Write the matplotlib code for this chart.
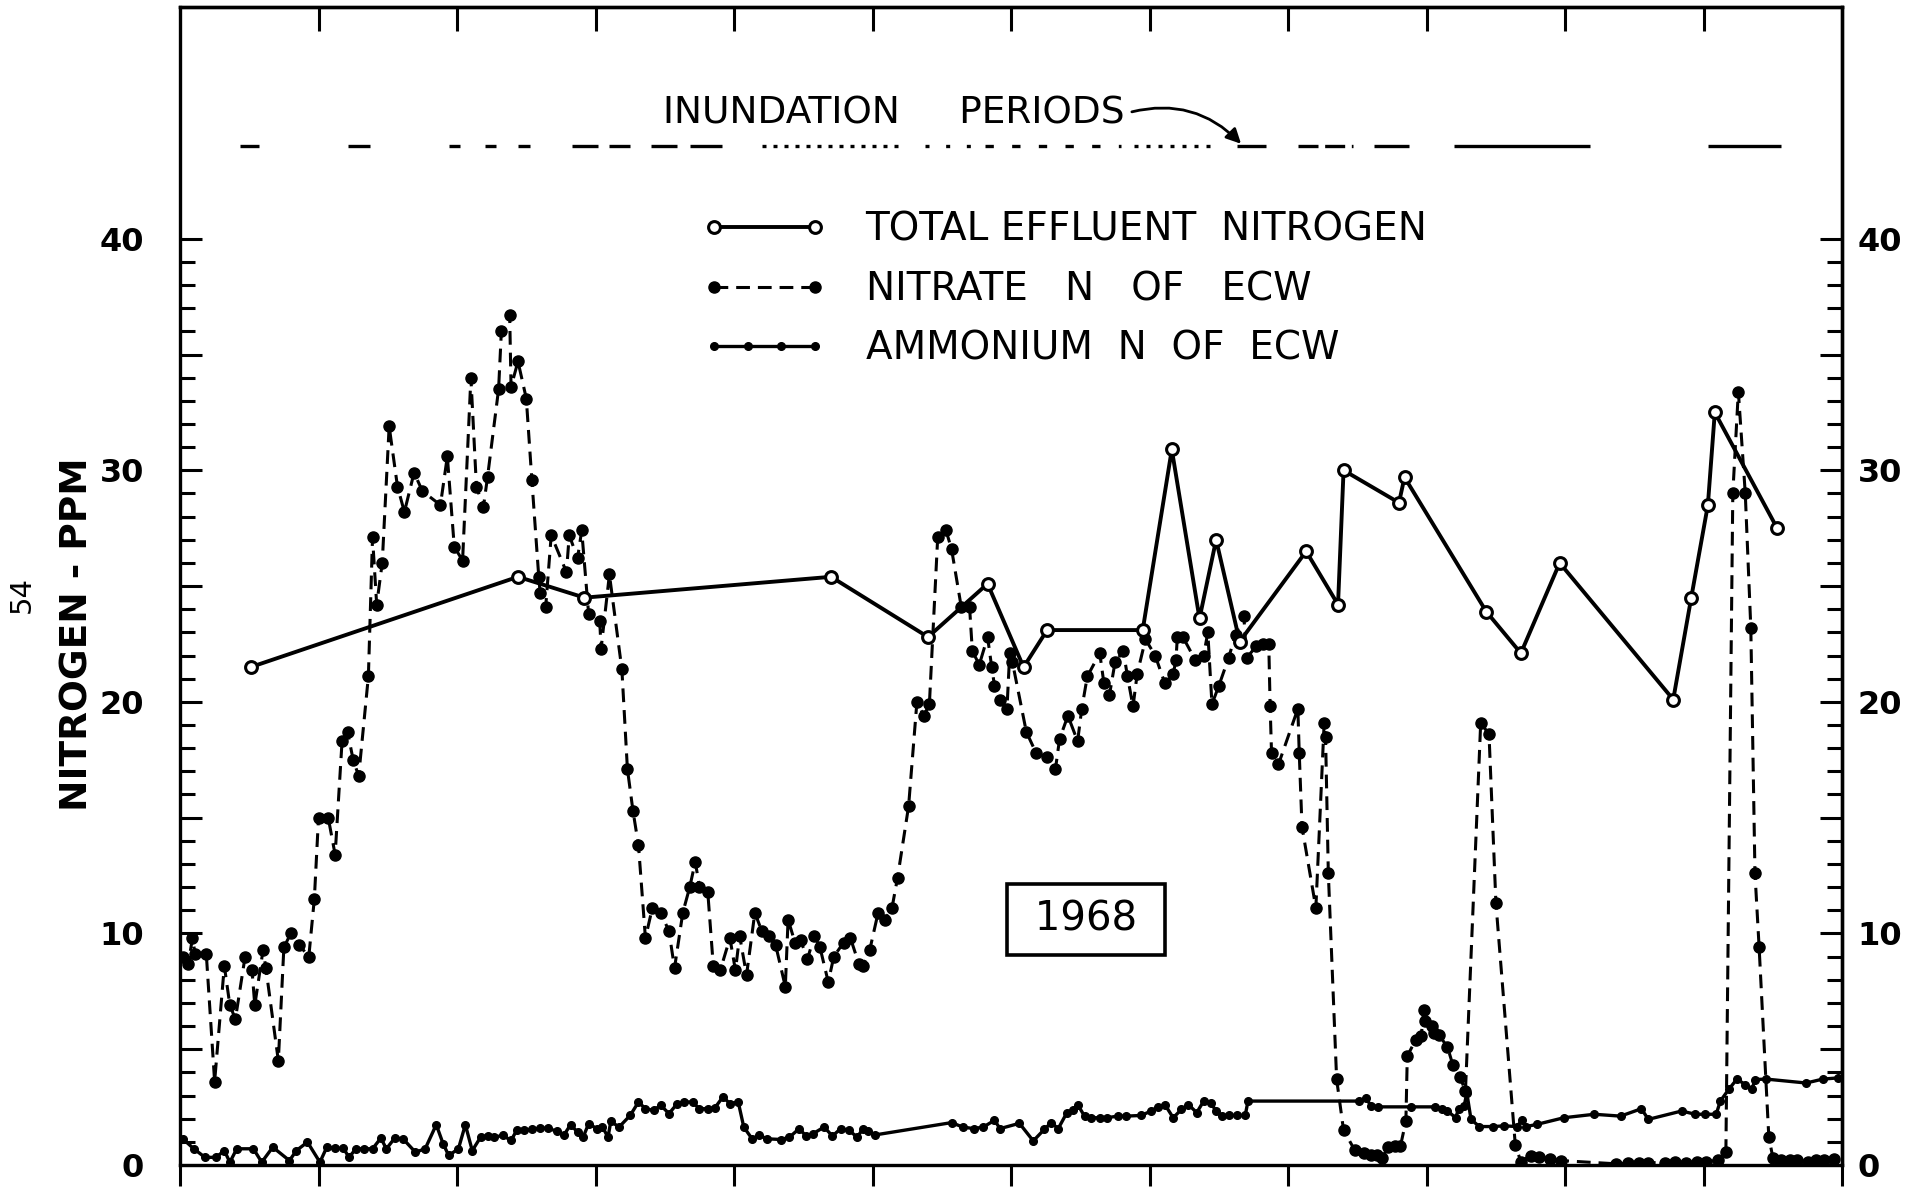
import matplotlib
matplotlib.use('Agg')
import matplotlib.pyplot as plt
from matplotlib.ticker import FixedLocator, FuncFormatter, NullFormatter
from matplotlib.legend_handler import HandlerLine2D

plt.rcParams['font.family'] = ['DejaVu Sans']

# ---------------- data (x = months of 1968 from Jan 1, y = ppm N) ----------------
total_month = [0.51, 2.44, 2.92, 4.70, 5.40, 5.83, 6.09, 6.26, 6.95, 7.16, 7.36, 7.48,
               7.65, 8.13, 8.36, 8.40, 8.80, 8.84, 9.43, 9.68, 9.96, 10.78, 10.91,
               11.03, 11.08, 11.53]
total_ppm = [21.5, 25.4, 24.5, 25.4, 22.8, 25.1, 21.5, 23.1, 23.1, 30.9, 23.6, 27.0,
             22.6, 26.5, 24.2, 30.0, 28.6, 29.7, 23.9, 22.1, 26.0, 20.1, 24.5,
             28.5, 32.5, 27.5]

nitrate_month = [0.02, 0.06, 0.09, 0.11, 0.19, 0.25, 0.32, 0.36, 0.40, 0.47, 0.52, 0.54,
                 0.60, 0.62, 0.71, 0.75, 0.80, 0.86, 0.93, 0.97, 1.00, 1.07, 1.12, 1.17,
                 1.21, 1.25, 1.29, 1.36, 1.39, 1.42, 1.46, 1.51, 1.57, 1.62, 1.69, 1.75,
                 1.88, 1.93, 1.98, 2.04, 2.10, 2.14, 2.19, 2.22, 2.30, 2.32, 2.38, 2.39,
                 2.44, 2.50, 2.54, 2.59, 2.60, 2.64, 2.68, 2.79, 2.81, 2.87, 2.90, 2.95,
                 3.03, 3.04, 3.10, 3.19, 3.23, 3.27, 3.31, 3.36, 3.41, 3.47, 3.53, 3.57,
                 3.63, 3.68, 3.72, 3.75, 3.81, 3.85, 3.90, 3.97, 4.01, 4.04, 4.09, 4.15,
                 4.20, 4.25, 4.30, 4.37, 4.39, 4.44, 4.48, 4.53, 4.58, 4.62, 4.68, 4.72,
                 4.79, 4.84, 4.90, 4.93, 4.98, 5.04, 5.09, 5.14, 5.18, 5.26, 5.32, 5.37,
                 5.41, 5.47, 5.53, 5.57, 5.64, 5.70, 5.72, 5.77, 5.83, 5.86, 5.88, 5.92,
                 5.97, 5.99, 6.01, 6.11, 6.18, 6.26, 6.32, 6.35, 6.41, 6.48, 6.51, 6.55,
                 6.64, 6.67, 6.71, 6.75, 6.81, 6.84, 6.88, 6.91, 6.97, 7.04, 7.11, 7.17,
                 7.19, 7.20, 7.24, 7.33, 7.39, 7.42, 7.45, 7.50, 7.57, 7.62, 7.68, 7.70,
                 7.77, 7.82, 7.86, 7.87, 7.88, 7.93, 8.07, 8.08, 8.10, 8.20, 8.26, 8.27,
                 8.29, 8.35, 8.40, 8.48, 8.55, 8.60, 8.64, 8.68, 8.72, 8.77, 8.81, 8.85,
                 8.86, 8.92, 8.96, 8.98, 8.99, 9.04, 9.05, 9.09, 9.15, 9.19, 9.24, 9.28,
                 9.39, 9.45, 9.50, 9.64, 9.68, 9.75, 9.81, 9.89, 9.97, 10.37, 10.45, 10.53,
                 10.60, 10.72, 10.79, 10.87, 10.95, 11.02, 11.10, 11.16, 11.21, 11.25, 11.30, 11.34,
                 11.37, 11.40, 11.47, 11.50, 11.56, 11.62, 11.67, 11.75, 11.81, 11.87, 11.94]
nitrate_ppm = [9.0, 8.7, 9.8, 9.1, 9.1, 3.6, 8.6, 6.9, 6.3, 9.0, 8.4, 6.9,
               9.3, 8.5, 4.5, 9.4, 10.0, 9.5, 9.0, 11.5, 15.0, 15.0, 13.4, 18.3,
               18.7, 17.5, 16.8, 21.1, 27.1, 24.2, 26.0, 31.9, 29.3, 28.2, 29.9, 29.1,
               28.5, 30.6, 26.7, 26.1, 34.0, 29.3, 28.4, 29.7, 33.5, 36.0, 36.7, 33.6,
               34.7, 33.1, 29.6, 25.4, 24.7, 24.1, 27.2, 25.6, 27.2, 26.2, 27.4, 23.8,
               23.5, 22.3, 25.5, 21.4, 17.1, 15.3, 13.8, 9.8, 11.1, 10.9, 10.1, 8.5,
               10.9, 12.0, 13.1, 12.0, 11.8, 8.6, 8.4, 9.8, 8.4, 9.9, 8.2, 10.9,
               10.1, 9.9, 9.5, 7.7, 10.6, 9.6, 9.7, 8.9, 9.9, 9.4, 7.9, 9.0,
               9.6, 9.8, 8.7, 8.6, 9.3, 10.9, 10.6, 11.1, 12.4, 15.5, 20.0, 19.4,
               19.9, 27.1, 27.4, 26.6, 24.1, 24.1, 22.2, 21.6, 22.8, 21.5, 20.7, 20.1,
               19.7, 22.1, 21.7, 18.7, 17.8, 17.6, 17.1, 18.4, 19.4, 18.3, 19.7, 21.1,
               22.1, 20.8, 20.3, 21.7, 22.2, 21.1, 19.8, 21.2, 22.7, 22.0, 20.8, 21.2,
               21.8, 22.8, 22.8, 21.8, 22.0, 23.0, 19.9, 20.7, 21.9, 22.9, 23.7, 21.9,
               22.4, 22.5, 22.5, 19.8, 17.8, 17.3, 19.7, 17.8, 14.6, 11.1, 19.1, 18.5,
               12.6, 3.7, 1.5, 0.65, 0.5, 0.45, 0.44, 0.3, 0.77, 0.8, 0.8, 1.9,
               4.7, 5.4, 5.55, 6.7, 6.2, 6.0, 5.7, 5.6, 5.1, 4.3, 3.8, 3.2,
               19.1, 18.6, 11.3, 0.85, 0.15, 0.4, 0.33, 0.26, 0.19, 0.05, 0.08, 0.1,
               0.1, 0.1, 0.12, 0.1, 0.12, 0.15, 0.2, 0.54, 29.0, 33.4, 29.0, 23.2,
               12.6, 9.4, 1.2, 0.3, 0.2, 0.2, 0.2, 0.15, 0.2, 0.2, 0.25]

ammonium_month = [0.02, 0.10, 0.18, 0.26, 0.32, 0.36, 0.41, 0.53, 0.59, 0.67, 0.79, 0.84,
                  0.92, 1.01, 1.06, 1.12, 1.18, 1.22, 1.27, 1.33, 1.39, 1.45, 1.49, 1.55,
                  1.61, 1.70, 1.77, 1.85, 1.90, 1.94, 2.01, 2.06, 2.11, 2.17, 2.22, 2.27,
                  2.33, 2.39, 2.43, 2.48, 2.54, 2.60, 2.66, 2.72, 2.77, 2.82, 2.87, 2.91,
                  2.95, 3.01, 3.05, 3.09, 3.11, 3.17, 3.25, 3.31, 3.36, 3.42, 3.47, 3.53,
                  3.59, 3.64, 3.70, 3.75, 3.81, 3.86, 3.92, 3.97, 4.03, 4.07, 4.13, 4.18,
                  4.24, 4.34, 4.40, 4.47, 4.52, 4.57, 4.65, 4.71, 4.77, 4.83, 4.89, 4.93,
                  4.97, 5.02, 5.57, 5.65, 5.73, 5.80, 5.88, 5.92, 6.06, 6.16, 6.24, 6.29,
                  6.34, 6.40, 6.45, 6.48, 6.53, 6.58, 6.64, 6.69, 6.77, 6.83, 6.94, 7.01,
                  7.06, 7.11, 7.17, 7.23, 7.28, 7.34, 7.39, 7.44, 7.48, 7.52, 7.57, 7.63,
                  7.69, 7.71, 8.51, 8.56, 8.60, 8.65, 8.89, 9.06, 9.11, 9.15, 9.21, 9.23,
                  9.27, 9.29, 9.32, 9.38, 9.48, 9.56, 9.65, 9.69, 9.72, 9.80, 9.99, 10.21,
                  10.40, 10.55, 10.60, 10.84, 10.94, 11.01, 11.09, 11.12, 11.18, 11.24, 11.30, 11.35,
                  11.37, 11.45, 11.74, 11.86, 11.97]
ammonium_ppm = [1.13, 0.70, 0.33, 0.33, 0.62, 0.12, 0.70, 0.70, 0.12, 0.77, 0.19, 0.62,
                0.99, 0.12, 0.77, 0.72, 0.72, 0.33, 0.70, 0.70, 0.70, 1.16, 0.70, 1.16,
                1.13, 0.55, 0.70, 1.74, 0.91, 0.41, 0.70, 1.74, 0.62, 1.20, 1.25, 1.20,
                1.28, 1.06, 1.49, 1.49, 1.54, 1.59, 1.59, 1.45, 1.28, 1.74, 1.42, 1.20,
                1.78, 1.57, 1.64, 1.20, 1.88, 1.64, 2.14, 2.72, 2.43, 2.36, 2.58, 2.22,
                2.65, 2.72, 2.72, 2.43, 2.43, 2.46, 2.94, 2.65, 2.72, 1.64, 1.13, 1.28,
                1.13, 1.10, 1.20, 1.57, 1.25, 1.35, 1.64, 1.25, 1.57, 1.49, 1.20, 1.57,
                1.45, 1.30, 1.83, 1.64, 1.57, 1.64, 1.93, 1.57, 1.80, 1.04, 1.54, 1.83,
                1.57, 2.23, 2.37, 2.61, 2.11, 2.04, 2.04, 2.04, 2.11, 2.11, 2.14, 2.33,
                2.51, 2.61, 2.04, 2.40, 2.61, 2.26, 2.76, 2.69, 2.33, 2.11, 2.14, 2.14,
                2.14, 2.76, 2.76, 2.90, 2.54, 2.51, 2.51, 2.51, 2.43, 2.33, 2.04, 2.43,
                2.54, 3.11, 1.97, 1.66, 1.66, 1.69, 1.66, 1.94, 1.66, 1.76, 2.04, 2.19,
                2.11, 2.43, 1.97, 2.33, 2.19, 2.19, 2.19, 2.76, 3.26, 3.71, 3.47, 3.29,
                3.69, 3.71, 3.54, 3.71, 3.76]

# inundation periods (start month, end month) and their line patterns
inundation_start = [0.43, 1.21, 1.94, 2.20, 2.44, 2.83, 3.10, 3.40, 3.68, 4.20, 5.38, 5.81,
                    6.89, 7.63, 8.07, 8.62, 9.20, 11.03]
inundation_end = [0.57, 1.37, 2.02, 2.28, 2.53, 3.02, 3.25, 3.59, 3.91, 5.22, 5.72, 6.79,
                  7.47, 7.84, 8.47, 8.87, 10.18, 11.56]
inundation_style = ['-', '-', '-', '-', '-', '-', '-', '-', '-', (0, (1.2, 2.1)),
                    (0, (1.2, 5.0)), (0, (2.5, 5.5)), (0, (1.2, 2.4)), '-', (0, (6, 2)),
                    '-', '-', '-']

y_tick_major = [0, 5, 10, 15, 20, 25, 30, 35, 40]
y_tick_minor = [v for v in range(0, 41) if v % 5]
x_tick_bottom = list(range(0, 13))
x_tick_top = list(range(1, 12))

INUNDATION_LEVEL = 44.0

# ---------------- figure ----------------
fig = plt.figure(figsize=(19.23, 11.94), dpi=100)
ax = fig.add_axes([0.0936, 0.0243, 0.8644, 0.9697])
ax.set_xlim(0, 12)
ax.set_ylim(0, 50)

ln_total, = ax.plot(total_month, total_ppm, color='black', lw=2.8, marker='o', ms=8.5,
                    mfc='white', mec='black', mew=2.2, zorder=5,
                    label='TOTAL EFFLUENT  NITROGEN')
ln_nit, = ax.plot(nitrate_month, nitrate_ppm, color='black', lw=2.2, ls=(0, (4.5, 2.6)),
                  marker='o', ms=8, mfc='black', mec='black', zorder=4,
                  label='NITRATE   N   OF   ECW')
ln_amm, = ax.plot(ammonium_month, ammonium_ppm, color='black', lw=2.4, marker='o', ms=5.5,
                  mfc='black', mec='black', zorder=4,
                  label='AMMONIUM  N  OF  ECW')

for s, e, st in zip(inundation_start, inundation_end, inundation_style):
    ax.plot([s, e], [INUNDATION_LEVEL, INUNDATION_LEVEL], color='black', lw=2.4, ls=st,
            solid_capstyle='butt', dash_capstyle='butt')

ax.annotate('INUNDATION     PERIODS', xy=(7.66, INUNDATION_LEVEL + 0.1), xytext=(3.49, 45.4),
            fontsize=27, va='center', ha='left',
            arrowprops=dict(arrowstyle='-|>', color='black', lw=2.0, mutation_scale=22,
                            relpos=(1.0, 0.5), shrinkA=3, shrinkB=0,
                            connectionstyle='arc3,rad=-0.3'))

ax.text(6.54, 10.6, ' 1968 ', fontsize=29, ha='center', va='center',
        bbox=dict(boxstyle='square,pad=0.38', fc='white', ec='black', lw=2.6))

ax.legend(handles=[ln_total, ln_nit, ln_amm], loc='upper left',
          bbox_to_anchor=(0.3142, 0.824), frameon=False, fontsize=28,
          handlelength=3.2, handletextpad=1.0, labelspacing=0.55, numpoints=2,
          borderaxespad=0, borderpad=0,
          handler_map={ln_amm: HandlerLine2D(numpoints=4)})

# spines
for sp in ax.spines.values():
    sp.set_linewidth(2.4)

# y ticks (left labels)
ax.yaxis.set_major_locator(FixedLocator(y_tick_major))
ax.yaxis.set_minor_locator(FixedLocator(y_tick_minor))
ax.yaxis.set_major_formatter(FuncFormatter(lambda v, p: f'{int(v)}' if v % 10 == 0 else ''))
ax.tick_params(axis='y', which='both', direction='in', left=True, right=False,
               labelleft=True, width=2.2, pad=26, labelsize=23)
ax.tick_params(axis='y', which='major', length=16)
ax.tick_params(axis='y', which='minor', length=11)
for lab in ax.get_yticklabels():
    lab.set_fontweight('bold')

# x ticks bottom (outward, unlabeled)
ax.xaxis.set_major_locator(FixedLocator(x_tick_bottom))
ax.tick_params(axis='x', which='major', direction='out', length=15, width=2.2,
               labelbottom=False, top=False)

# top ticks (inward)
sec_top = ax.secondary_xaxis('top')
sec_top.set_xticks(x_tick_top)
sec_top.tick_params(direction='in', length=17, width=2.2, labeltop=False)
sec_top.spines['top'].set_linewidth(2.4)

# right ticks and labels
sec_r = ax.secondary_yaxis('right')
sec_r.yaxis.set_major_locator(FixedLocator(y_tick_major))
sec_r.yaxis.set_minor_locator(FixedLocator(y_tick_minor))
sec_r.yaxis.set_major_formatter(FuncFormatter(lambda v, p: f'{int(v)}' if v % 10 == 0 else ''))
sec_r.yaxis.set_minor_formatter(NullFormatter())
sec_r.tick_params(axis='y', which='both', direction='in', width=2.2, pad=11, labelsize=23)
sec_r.tick_params(axis='y', which='major', length=16)
sec_r.tick_params(axis='y', which='minor', length=11)
sec_r.spines['right'].set_linewidth(2.4)
for lab in sec_r.get_yticklabels():
    lab.set_fontweight('bold')

ax.set_ylabel('NITROGEN - PPM', fontsize=27, fontweight='bold')
ax.yaxis.set_label_coords(-0.051, 0.4587)

fig.text(0.0115, 0.502, '54', rotation=90, fontsize=21, ha='center', va='center')

fig.savefig('out.png', dpi=100)
